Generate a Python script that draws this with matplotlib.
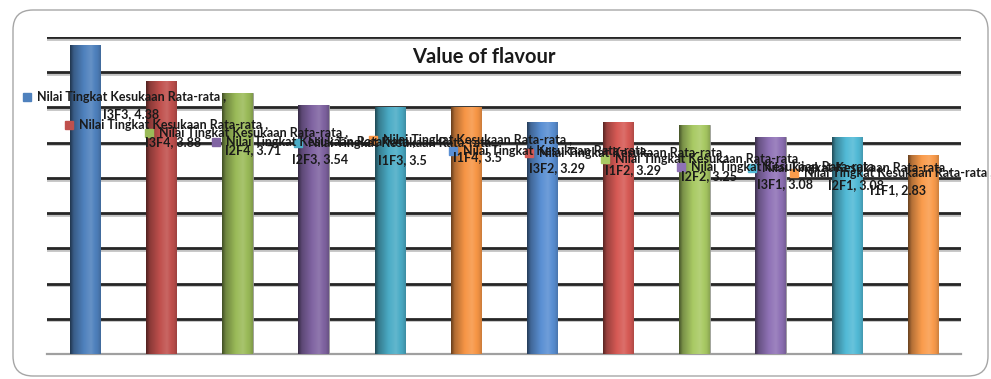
import matplotlib
matplotlib.use('Agg')
import matplotlib.pyplot as plt
import numpy as np
from matplotlib.patches import FancyBboxPatch
import matplotlib.patheffects as pe
from matplotlib.colors import to_rgb

# ---- data ----
categories = ['I3F3', 'I3F4', 'I2F4', 'I2F3', 'I1F3', 'I1F4',
              'I3F2', 'I1F2', 'I2F2', 'I3F1', 'I2F1', 'I1F1']
values = [4.38, 3.88, 3.71, 3.54, 3.5, 3.5, 3.29, 3.29, 3.25, 3.08, 3.08, 2.83]
series_name = 'Nilai Tingkat Kesukaan Rata-rata'
title = 'Value of flavour'

# ---- styles / layout ----
colors = ['#4F81BD', '#C0504D', '#9BBB59', '#8064A2', '#4BACC6', '#F79646',
          '#5A8FD3', '#D65A55', '#A9CA64', '#8F72B6', '#52BAD6', '#FA9C4C']
# data-label key positions (category units, value units)
key_x = [-0.763, -0.211, 0.839, 1.719, 2.795, 3.780, 4.830, 5.828, 6.826, 7.823, 8.756, 9.307]
key_y = [3.645, 3.248, 3.135, 3.007, 2.993, 3.035, 2.879, 2.851, 2.766, 2.652, 2.638, 2.567]
FONT = 'Lato'

fig = plt.figure(figsize=(9.91, 3.79), dpi=100)
fig.patch.set_facecolor('white')

# rounded chart frame
frame = FancyBboxPatch((0.13, 0.03), 9.75, 3.66, boxstyle='round,pad=0,rounding_size=0.2',
                       transform=fig.dpi_scale_trans, facecolor='none',
                       edgecolor='#A6A6A6', linewidth=1.0, zorder=-5)
fig.add_artist(frame)

ax = fig.add_axes([47 / 991, 1 - 354 / 379, (961 - 47) / 991, (354 - 37) / 379])
ax.set_facecolor('none')
ax.set_zorder(2)
x = np.arange(len(categories))
bars = ax.bar(x, values, width=0.4, color=colors, edgecolor='#9a9a9a', linewidth=0.6, zorder=3)


def shade_row(color, n=80):
    base = np.array(to_rgb(color))
    t = np.linspace(0, 1, n)
    # cylinder profile
    prof = np.interp(t, [0, 0.12, 0.45, 0.68, 0.9, 1.0], [0.42, 0.72, 1.0, 1.08, 0.95, 0.82])
    row = np.zeros((1, n, 3))
    for i, f in enumerate(prof):
        if f <= 1:
            row[0, i] = base * f
        else:
            row[0, i] = base + (1 - base) * (f - 1) * 1.6
    return np.clip(row, 0, 1)


for b, c in zip(bars, colors):
    x0, w, h = b.get_x(), b.get_width(), b.get_height()
    im = ax.imshow(shade_row(c), extent=(x0, x0 + w, 0, h), aspect='auto',
                   interpolation='bilinear', zorder=3.5)
    im.set_clip_path(b)

ax.set_xlim(-0.5, len(categories) - 0.5)
ax.set_ylim(0, 4.5)
ax.set_yticks(np.arange(0.5, 4.51, 0.5))
ax.set_xticks([])
ax.tick_params(left=False, labelleft=False)
for yv in ax.get_yticks():
    ax.axhline(yv, color='#262626', linewidth=2.0, zorder=1,
               path_effects=[pe.SimpleLineShadow(offset=(0, -1.2), shadow_color='#888888', alpha=0.5),
                             pe.Normal()])
for s in ['left', 'right', 'top']:
    ax.spines[s].set_visible(False)
ax.spines['bottom'].set_color('#A0A0A0')
ax.spines['bottom'].set_linewidth(1.6)
ax.spines['bottom'].set_zorder(2)

# data labels with legend keys
for i, (cat, v) in enumerate(zip(categories, values)):
    kx, ky = key_x[i], key_y[i]
    ax.plot([kx], [ky], marker='s', markersize=5.5, color=colors[i], linestyle='none',
            clip_on=False, zorder=6)
    ax.annotate(series_name + ' ,', xy=(kx, ky), xytext=(75, 0), textcoords='offset points',
                ha='center', va='center', fontsize=9, fontweight='bold', family=FONT,
                color='#1a1a1a', annotation_clip=False, zorder=7)
    ax.annotate(f'{cat}, {v:g}', xy=(kx, ky), xytext=(75, -12.3), textcoords='offset points',
                ha='center', va='center', fontsize=9, fontweight='bold', family=FONT,
                color='#1a1a1a', annotation_clip=False, zorder=7)

fig.text(484 / 991, 1 - 57 / 379, title, ha='center', va='center', fontsize=14.5,
         fontweight='bold', family=FONT, color='#1a1a1a', zorder=10)

fig.savefig('out.png', dpi=100, facecolor='white')
